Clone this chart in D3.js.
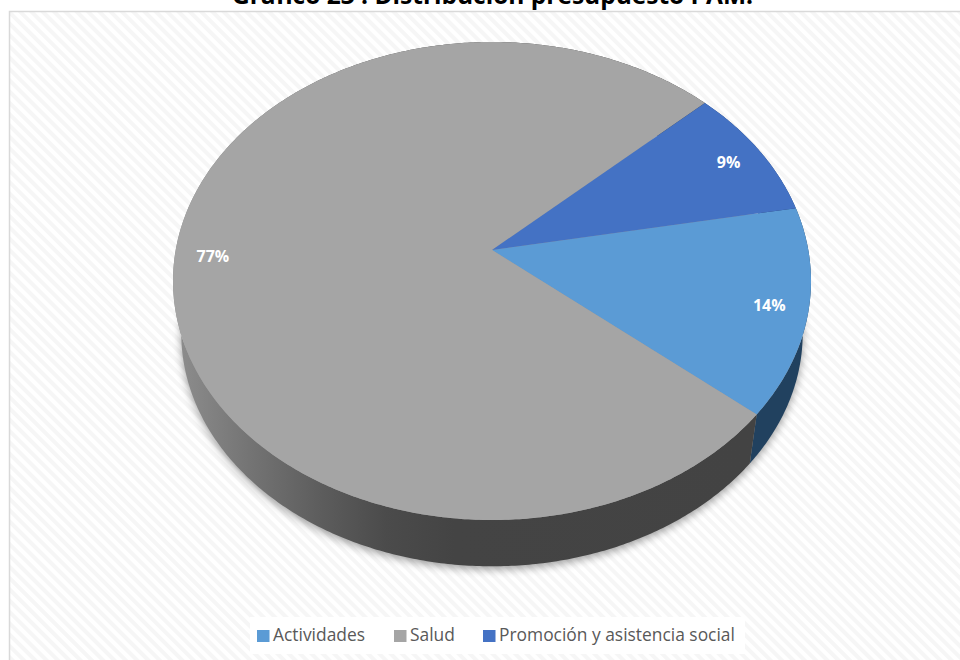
<!DOCTYPE html>
<html lang="es">
<head>
<meta charset="utf-8">
<title>Distribución presupuesto PAM</title>
<script src="https://cdn.jsdelivr.net/npm/d3@7"></script>
<style>
  html, body { margin: 0; padding: 0; background: #fff; }
  svg { display: block; }
</style>
</head>
<body>
<svg id="chart" width="960" height="660"></svg>
<script>
// Budget shares, clockwise from the first slice angle
const categories = ["Actividades", "Salud", "Promoción y asistencia social"];
const shares = [14, 77, 9];
const faceColors = ["#5B9BD5", "#A5A5A5", "#4472C4"];
const wallColors = ["#21415F", "url(#salud-wall)", "#274273"];
const titleText = "Gráfico 23 : Distribución presupuesto PAM.";
const firstSliceDeg = 79.5;

const W = 960, H = 660;
const svg = d3.select("#chart").attr("viewBox", [0, 0, W, H]);
const defs = svg.append("defs");

// Tilted-disc projection: a unit circle seen in perspective
const apex = { x: 492, y: 250 };
const tilt = 0.1297, scaleX = 316.3, scaleY = 235;
const thickness = { scale: 0.974, vanishY: 2300 };

function project(angle, r = 1) {
  const dx = r * Math.sin(angle), dy = r * Math.cos(angle);
  const w = 1 + tilt * dy;
  return [apex.x + scaleX * dx / w, apex.y - scaleY * dy / w];
}
function projectLower(angle) {
  const [x, y] = project(angle);
  return [
    apex.x + (x - apex.x) * thickness.scale,
    y * thickness.scale + (1 - thickness.scale) * thickness.vanishY
  ];
}
const line = d3.line();
const rim = (a0, a1, fn) => {
  const n = Math.max(2, Math.ceil((a1 - a0) / 0.01));
  return d3.range(n + 1).map(i => fn(a0 + (a1 - a0) * i / n));
};

const slices = d3.pie().sort(null).value(d => d)
  .startAngle(firstSliceDeg * Math.PI / 180)
  .endAngle((firstSliceDeg + 360) * Math.PI / 180)(shares);

// Diagonal hatch of the chart area
const hatch = defs.append("pattern")
  .attr("id", "hatch").attr("patternUnits", "userSpaceOnUse")
  .attr("width", 8).attr("height", 8)
  .attr("patternTransform", "rotate(45)");
hatch.append("rect").attr("width", 8).attr("height", 8).attr("fill", "#ffffff");
hatch.append("rect").attr("width", 8).attr("height", 4).attr("fill", "#f6f6f6");

// Side wall shading of the large slice
const grad = defs.append("linearGradient")
  .attr("id", "salud-wall").attr("gradientUnits", "userSpaceOnUse")
  .attr("x1", 181).attr("x2", 750).attr("y1", 0).attr("y2", 0);
[[0, "#8C8C8C"], [0.12, "#747474"], [0.25, "#5C5C5C"], [0.36, "#4B4B4B"], [0.48, "#444444"], [1, "#434343"]]
  .forEach(([o, c]) => grad.append("stop").attr("offset", o).attr("stop-color", c));

const blur = defs.append("filter").attr("id", "soft")
  .attr("x", "-10%").attr("y", "-10%").attr("width", "120%").attr("height", "120%");
blur.append("feGaussianBlur").attr("stdDeviation", 4);

// Chart area
svg.append("rect").attr("x", 9.5).attr("y", 11.5)
  .attr("width", W).attr("height", H)
  .attr("fill", "url(#hatch)").attr("stroke", "#D9D9D9").attr("stroke-width", 1.5);

// Title, cut by the top edge of the page
svg.append("text").attr("x", 492.5).attr("y", 4)
  .attr("text-anchor", "middle")
  .attr("font-family", "'Open Sans', sans-serif").attr("font-weight", 700)
  .attr("font-size", 24.5).attr("fill", "#000")
  .text(titleText);

// Soft shadow under the disc
const full = [0, 2 * Math.PI];
svg.append("path")
  .attr("d", line(rim(full[0], full[1], projectLower)) + "Z")
  .attr("transform", "translate(0,3)")
  .attr("fill", "#000").attr("opacity", 0.38).attr("filter", "url(#soft)");

// Side walls, then the top faces
const g = svg.append("g");
g.selectAll("path.wall").data(slices).join("path")
  .attr("class", "wall")
  .attr("d", d => {
    const top = rim(d.startAngle, d.endAngle, project);
    const low = rim(d.startAngle, d.endAngle, projectLower).reverse();
    return line(top.concat(low)) + "Z";
  })
  .attr("fill", (d, i) => wallColors[i]);

g.selectAll("path.face").data(slices).join("path")
  .attr("class", "face")
  .attr("d", d => line([[apex.x, apex.y]].concat(rim(d.startAngle, d.endAngle, project))) + "Z")
  .attr("fill", (d, i) => faceColors[i]);

// Percentage labels inside each slice
const total = d3.sum(shares);
g.selectAll("text.pct").data(slices).join("text")
  .attr("class", "pct")
  .attr("transform", d => {
    const [x, y] = project((d.startAngle + d.endAngle) / 2, 0.88);
    return `translate(${x},${y + 1})`;
  })
  .attr("text-anchor", "middle").attr("dy", "0.36em")
  .attr("font-family", "'Open Sans', sans-serif").attr("font-weight", 700)
  .attr("font-size", 16).attr("fill", "#fff")
  .text(d => `${Math.round(d.value / total * 100)}%`);

// Legend on a white plate
svg.append("rect").attr("x", 250).attr("y", 617)
  .attr("width", 495).attr("height", 37).attr("fill", "#fff");
const legendX = d3.scaleOrdinal().domain(categories).range([257, 394, 483]);
const legend = svg.append("g").selectAll("g").data(categories).join("g")
  .attr("transform", d => `translate(${legendX(d)},0)`);
legend.append("rect").attr("y", 630).attr("width", 12.5).attr("height", 12)
  .attr("fill", (d, i) => faceColors[i]);
legend.append("text").attr("x", 16).attr("y", 641)
  .attr("font-family", "'Open Sans', sans-serif")
  .attr("font-size", 17.4).attr("fill", "#595959")
  .text(d => d);
</script>
</body>
</html>
